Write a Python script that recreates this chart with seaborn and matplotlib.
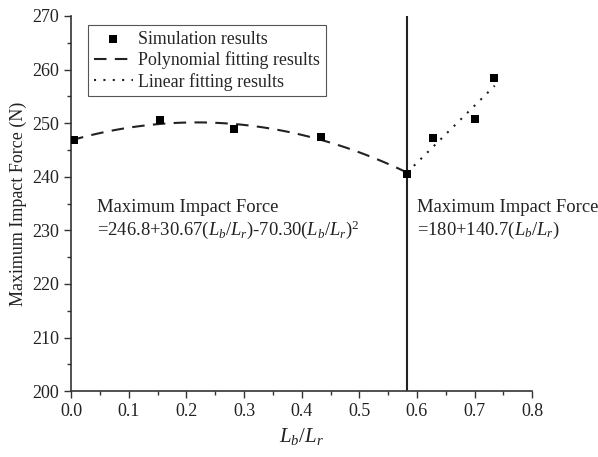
import numpy as np
import pandas as pd
import matplotlib
matplotlib.use("Agg")
import matplotlib.pyplot as plt
import seaborn as sns
from matplotlib.ticker import MultipleLocator

# Data
sim_x = [0.005, 0.155, 0.283, 0.433, 0.583, 0.627, 0.700, 0.733]
sim_y = [246.8, 250.6, 249.0, 247.4, 240.6, 247.3, 250.7, 258.5]
poly_coef = [-70.30, 30.67, 246.8]          # shown polynomial fit (x^2, x, 1)
poly_range = [0.0, 0.583]
lin_x = [0.583, 0.735]
lin_y = [240.8, 257.0]
split_x = 0.583

sns.set_theme(style="ticks")
plt.rcParams['font.family'] = ['Liberation Serif', 'DejaVu Serif']
plt.rcParams['mathtext.fontset'] = 'custom'
plt.rcParams['mathtext.rm'] = 'Liberation Serif'
plt.rcParams['mathtext.it'] = 'Liberation Serif:italic'

fig = plt.figure(figsize=(5.98, 4.57), dpi=100)
ax = fig.add_axes([0.119, 0.144, 0.771, 0.821])

px = np.linspace(poly_range[0], poly_range[1], 120)
poly_df = pd.DataFrame({"x": px, "y": np.polyval(poly_coef, px)})
lin_df = pd.DataFrame({"x": lin_x, "y": lin_y})
sim_df = pd.DataFrame({"x": sim_x, "y": sim_y})

sns.scatterplot(data=sim_df, x="x", y="y", ax=ax, marker="s", s=40, color="black",
                edgecolor="black", linewidth=0, label="Simulation results", zorder=3)
sns.lineplot(data=poly_df, x="x", y="y", ax=ax, color="#222222", lw=1.5,
             linestyle=(0, (6, 4)), label="Polynomial fitting results")
sns.lineplot(data=lin_df, x="x", y="y", ax=ax, color="#222222", lw=1.5,
             linestyle=(0, (1, 3.5)), label="Linear fitting results")
ax.axvline(split_x, color="#222222", lw=1.5, zorder=1)

ax.set_xlim(0, 0.8)
ax.set_ylim(200, 270)
ax.xaxis.set_major_locator(MultipleLocator(0.1))
ax.xaxis.set_minor_locator(MultipleLocator(0.05))
ax.yaxis.set_major_locator(MultipleLocator(10))
ax.yaxis.set_minor_locator(MultipleLocator(5))
ax.xaxis.set_major_formatter(matplotlib.ticker.FormatStrFormatter('%.1f'))
ax.tick_params(which='major', direction='out', length=5, width=1, labelsize=13, color='#333333', labelcolor='#222222')
ax.tick_params(which='minor', direction='out', length=3, width=1, color='#333333')
sns.despine(ax=ax)
for s in ['left', 'bottom']:
    ax.spines[s].set_color('#333333')
    ax.spines[s].set_linewidth(1.2)

ax.set_xlabel(r'$L_b/L_r$', fontsize=15, color='#222222')
ax.set_ylabel('Maximum Impact Force (N)', fontsize=13, color='#222222')

leg = ax.legend(loc='upper left', bbox_to_anchor=(0.037, 0.975), fontsize=12.9,
                frameon=True, fancybox=False, edgecolor='#555555', framealpha=1,
                handlelength=2.2, handletextpad=0.3, borderpad=0.3, labelspacing=0.2,
                borderaxespad=0)
leg.get_frame().set_linewidth(0.8)

fs = 13.4
ax.text(0.045, 233.5, 'Maximum Impact Force', fontsize=fs, color='#222222')
ax.text(0.045, 229.2, r'=246.8+30.67($L_b/L_r$)-70.30($L_b/L_r$)$^2$', fontsize=fs, color='#222222')
ax.text(0.6, 233.5, 'Maximum Impact Force', fontsize=fs, color='#222222')
ax.text(0.6, 229.2, r'=180+140.7($L_b/L_r$)', fontsize=fs, color='#222222')

fig.savefig('out.png', dpi=100)
